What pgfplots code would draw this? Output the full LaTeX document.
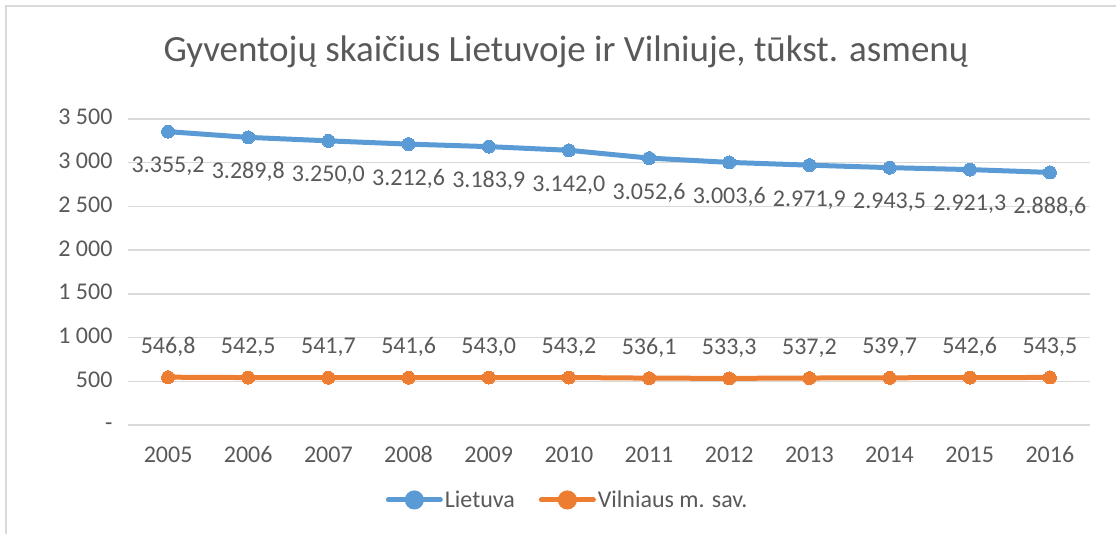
\documentclass[border=0pt]{standalone}
\usepackage{pgfplots}
\pgfplotsset{compat=1.18}
\usepackage{fontspec}
\setmainfont{Carlito}
\definecolor{ltblue}{HTML}{5B9BD5}
\definecolor{ltorange}{HTML}{ED7D31}
\definecolor{txtgray}{HTML}{595959}
\definecolor{gridgray}{HTML}{D9D9D9}

\pgfplotstableread{
x y label
2005 3355.2 {3.355,2}
2006 3289.8 {3.289,8}
2007 3250.0 {3.250,0}
2008 3212.6 {3.212,6}
2009 3183.9 {3.183,9}
2010 3142.0 {3.142,0}
2011 3052.6 {3.052,6}
2012 3003.6 {3.003,6}
2013 2971.9 {2.971,9}
2014 2943.5 {2.943,5}
2015 2921.3 {2.921,3}
2016 2888.6 {2.888,6}
}\lietuva

\pgfplotstableread{
x y label
2005 546.8 {546,8}
2006 542.5 {542,5}
2007 541.7 {541,7}
2008 541.6 {541,6}
2009 543.0 {543,0}
2010 543.2 {543,2}
2011 536.1 {536,1}
2012 533.3 {533,3}
2013 537.2 {537,2}
2014 539.7 {539,7}
2015 542.6 {542,6}
2016 543.5 {543,5}
}\vilnius

\begin{document}
\begin{tikzpicture}
\useasboundingbox (0pt,0pt) rectangle (1116pt,534pt);
% light frame at top and left
\draw[gridgray, line width=2pt] (6pt,0pt) -- (6pt,528pt) -- (1116pt,528pt);
\node[txtgray, font=\fontsize{37}{44}\selectfont] at (566pt,482pt) {Gyventojų skaičius Lietuvoje ir Vilniuje, tūkst. asmenų};
\begin{axis}[
    at={(128pt,109pt)}, anchor=south west,
    scale only axis,
    width=962pt, height=306pt,
    xmin=2004.5, xmax=2016.5,
    ymin=0, ymax=3500,
    xtick={2005,...,2016},
    ytick={0,500,...,3500},
    yticklabels={-,500,1 000,1 500,2 000,2 500,3 000,3 500},
    /pgf/number format/1000 sep={},
    /pgf/number format/assume math mode=true,
    axis line style={draw=none},
    major tick length=0pt,
    ymajorgrids=true,
    grid style={gridgray, line width=1.5pt},
    tick label style={txtgray, font=\fontsize{24}{28}\selectfont, text height=16pt, text depth=4pt},
    xticklabel style={yshift=-18pt},
    yticklabel style={xshift=-12pt},
    clip=false,
    legend style={at={(0.457,-0.245)}, anchor=center, draw=none,
        font=\fontsize{24}{28}\selectfont, text=txtgray,
        legend columns=2, column sep=0pt,
        nodes={inner sep=2pt},
        /tikz/every even column/.append style={column sep=22pt}},
    legend image code/.code={
        \draw[#1, line width=5pt, line cap=round] (0pt,0pt) -- (52pt,0pt);
        \fill[#1] (26pt,0pt) circle (7pt);
    },
    nodes near coords={\pgfplotspointmeta},
    point meta=explicit symbolic,
    every node near coord/.append style={txtgray, font=\fontsize{24}{28}\selectfont,
        anchor=base, text height=16pt, text depth=4pt},
]
\addplot[ltblue, line width=5pt, mark=*, mark size=6.5pt, mark options={line width=0pt},
    every node near coord/.append style={yshift=-41pt}]
    table[x=x, y=y, meta=label] {\lietuva};
\addlegendentry{Lietuva}
\addplot[ltorange, line width=5pt, mark=*, mark size=6.5pt, mark options={line width=0pt},
    every node near coord/.append style={yshift=24pt}]
    table[x=x, y=y, meta=label] {\vilnius};
\addlegendentry{Vilniaus m. sav.}
\end{axis}
\end{tikzpicture}
\end{document}
